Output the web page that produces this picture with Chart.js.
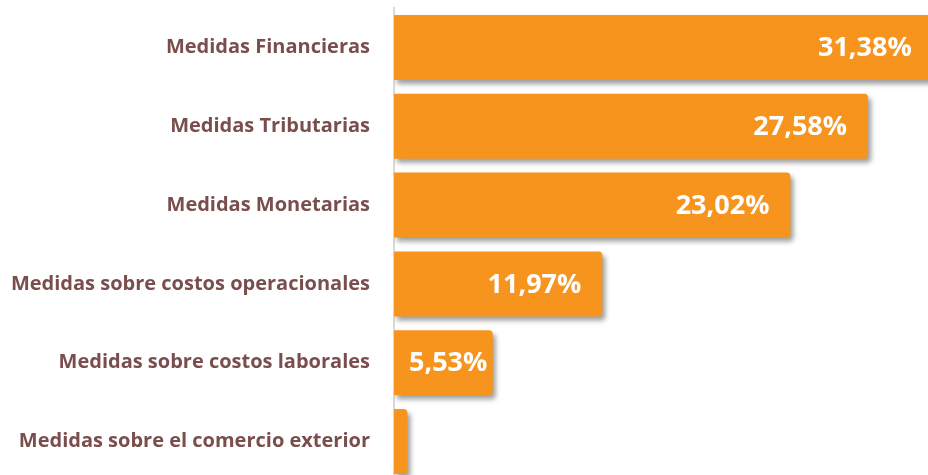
<!DOCTYPE html>
<html>
<head>
<meta charset="utf-8">
<script src="https://cdn.jsdelivr.net/npm/chart.js@4"></script>
<style>
  html, body { margin: 0; padding: 0; background: #fff; overflow: hidden; }
  #wrap { width: 928px; height: 482px; }
</style>
</head>
<body>
<div id="wrap"><canvas id="barChart"></canvas></div>
<script>
// Medidas - porcentaje
const categories = [
    "Medidas Financieras",
    "Medidas Tributarias",
    "Medidas Monetarias",
    "Medidas sobre costos operacionales",
    "Medidas sobre costos laborales",
    "Medidas sobre el comercio exterior"
];
const values = [31.38, 27.58, 23.02, 11.97, 5.53, 0.52];
const valueLabels = ["31,38%", "27,58%", "23,02%", "11,97%", "5,53%", ""];

// bars start a hair left of zero, like the original
const axisStart = -0.27;

const barShadow = {
    id: "barShadow",
    beforeDatasetsDraw(chart) {
        const ctx = chart.ctx;
        ctx.save();
        ctx.shadowColor = "rgba(0, 0, 0, 0.38)";
        ctx.shadowBlur = 5;
        ctx.shadowOffsetX = 3;
        ctx.shadowOffsetY = 4;
    },
    afterDatasetsDraw(chart) {
        chart.ctx.restore();
    }
};

const valueText = {
    id: "valueText",
    afterDatasetsDraw(chart) {
        const ctx = chart.ctx;
        const meta = chart.getDatasetMeta(0);
        ctx.save();
        ctx.font = "700 27px 'Open Sans'";
        ctx.fillStyle = "#ffffff";
        ctx.textAlign = "right";
        ctx.textBaseline = "middle";
        meta.data.forEach((bar, i) => {
            if (!valueLabels[i]) return;
            const w = ctx.measureText(valueLabels[i]).width;
            const x = Math.max(bar.x - 21, bar.base + 15 + w);
            ctx.fillText(valueLabels[i], x, bar.y + 1);
        });
        ctx.restore();
    }
};

new Chart(document.getElementById("barChart"), {
    type: "bar",
    data: {
        labels: categories,
        datasets: [{
            data: values,
            base: axisStart,
            backgroundColor: "#F7941E",
            borderRadius: { topRight: 4, bottomRight: 4, topLeft: 0, bottomLeft: 0 },
            borderSkipped: false,
            barPercentage: 0.825,
            categoryPercentage: 1
        }]
    },
    options: {
        indexAxis: "y",
        responsive: true,
        maintainAspectRatio: false,
        animation: false,
        layout: { padding: { top: 8, bottom: 1, left: 0, right: 0 } },
        plugins: {
            legend: { display: false },
            tooltip: { enabled: false }
        },
        scales: {
            x: {
                display: false,
                min: axisStart,
                max: 31.1
            },
            y: {
                afterFit(scale) {
                    scale.width = 394;
                    scale.paddingTop = 0;
                    scale.paddingBottom = 0;
                },
                grid: { display: false, drawTicks: false },
                border: { display: true, color: "#D9D9D9", width: 2 },
                ticks: {
                    padding: 24,
                    color: "#7A4E4D",
                    font: { family: "'Open Sans'", size: 20, weight: "700" }
                }
            }
        }
    },
    plugins: [barShadow, valueText]
});
</script>
</body>
</html>
